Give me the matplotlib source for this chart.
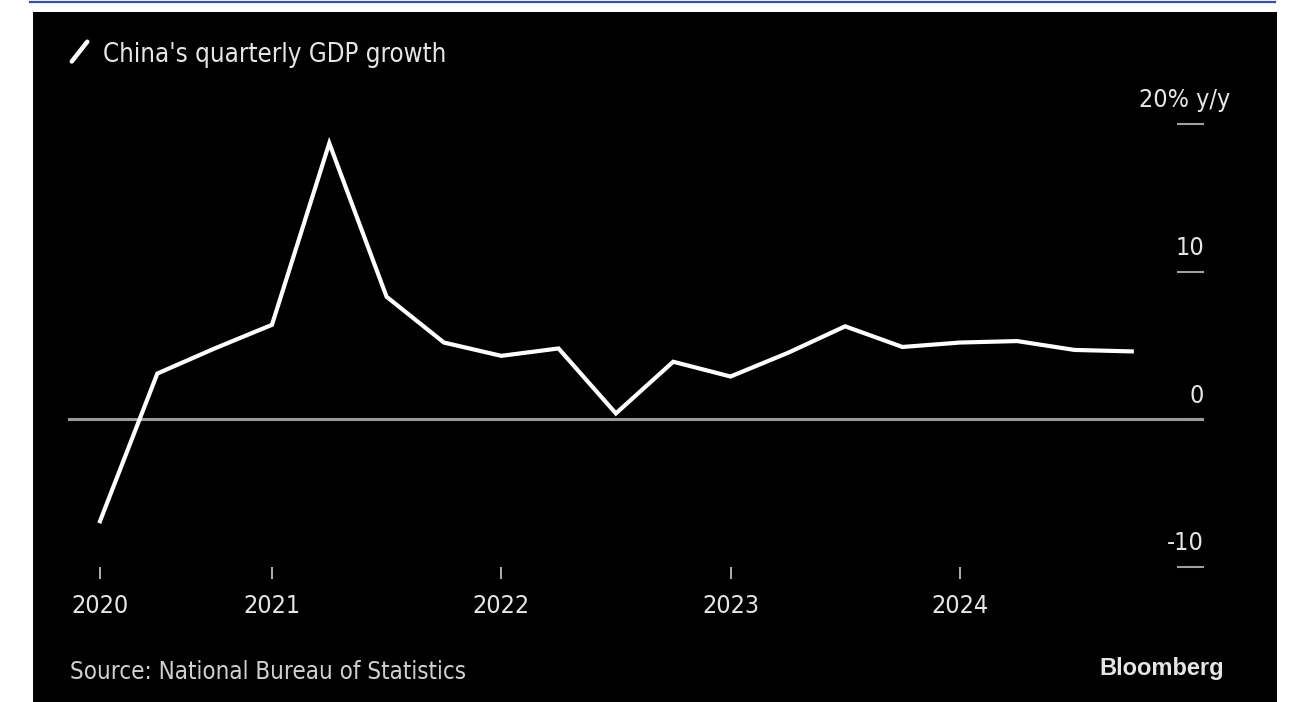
import numpy as np
import matplotlib
matplotlib.use("Agg")
import matplotlib.pyplot as plt
from matplotlib.lines import Line2D
from matplotlib.patches import Rectangle

# China real GDP, y/y %, Q1 2020 .. Q3 2024
quarters = ["2020Q1", "2020Q2", "2020Q3", "2020Q4",
            "2021Q1", "2021Q2", "2021Q3", "2021Q4",
            "2022Q1", "2022Q2", "2022Q3", "2022Q4",
            "2023Q1", "2023Q2", "2023Q3", "2023Q4",
            "2024Q1", "2024Q2", "2024Q3"]
growth = [-6.9, 3.1, 4.8, 6.4,
          18.7, 8.3, 5.2, 4.3,
          4.8, 0.4, 3.9, 2.9,
          4.5, 6.3, 4.9, 5.2,
          5.3, 4.7, 4.6]
year_labels = ["2020", "2021", "2022", "2023", "2024"]
year_pos = [0, 3, 7, 11, 15]   # quarter index where each year label sits
y_ticks = [-10, 0, 10, 20]
y_labels = ["-10", "0", "10", "20% y/y"]

FONT = dict(family="DejaVu Sans", fontstretch="condensed")
W, H = 1297, 702

fig = plt.figure(figsize=(W / 100, H / 100), dpi=100)
fig.patch.set_facecolor("white")

def px(x, y):
    return x / W, 1 - y / H

# black card + blue rule on top
x0, y0 = px(33, 702)
x1, y1 = px(1277, 12)
fig.patches.append(Rectangle((x0, y0), x1 - x0, y1 - y0, transform=fig.transFigure,
                             facecolor="black", edgecolor="none", zorder=-5))
fig.lines.append(Line2D([30 / W, 1275 / W], [1 - 1.5 / H] * 2, transform=fig.transFigure,
                        color="#3b4fa0", lw=1.6))

ax = fig.add_axes([68 / W, 1 - 567 / H, (1204 - 68) / W, (567 - 124) / H])
ax.set_facecolor("none")
x = np.arange(len(growth))
ax.plot(x, growth, color="white", lw=3.0, solid_joinstyle="miter", zorder=3)
ax.axhline(0, color="#9a9a9a", lw=2.2, zorder=2)

ax.set_xlim((68 - 100) / 57.32, (1204 - 100) / 57.32)
ax.set_ylim(-10, 20)
for s in ax.spines.values():
    s.set_visible(False)

ax.set_xticks(year_pos)
ax.set_xticklabels(year_labels, fontsize=18, color="#e6e6e6", **FONT)
ax.tick_params(axis="x", direction="out", length=8.6, width=1.4, color="#b0b0b0", pad=11)

ax.yaxis.tick_right()
ax.set_yticks(y_ticks)
ax.set_yticklabels([])
ax.tick_params(axis="y", direction="in", length=19.4, width=1.5, color="#a0a0a0")
for v, lab in zip(y_ticks, y_labels):
    dx = 19 if "y/y" in lab else 0
    ax.annotate(lab, xy=(1, v), xycoords=("axes fraction", "data"),
                xytext=(dx, 12), textcoords="offset points",
                ha="right", va="baseline", fontsize=18, color="#e6e6e6", **FONT)

# title with slash marker
fig.lines.append(Line2D([71.7 / W, 87.3 / W], [1 - 61.5 / H, 1 - 41.7 / H],
                        transform=fig.transFigure, color="white", lw=3.2,
                        solid_capstyle="round"))
tx, ty = px(103, 62)
fig.text(tx, ty, "China's quarterly GDP growth", fontsize=18.5,
         color="#e6e6e6", ha="left", va="baseline", **FONT)

sx, sy = px(70, 679)
fig.text(sx, sy, "Source: National Bureau of Statistics", fontsize=17.3,
         color="#d0d0d0", ha="left", va="baseline", **FONT)
bx, by = px(1224, 675)
fig.text(bx, by, "Bloomberg", family=["Liberation Sans", "DejaVu Sans"], fontsize=17,
         fontweight="bold", color="#e6e6e6", ha="right", va="baseline")

fig.savefig("out.png", dpi=100, facecolor="white")
